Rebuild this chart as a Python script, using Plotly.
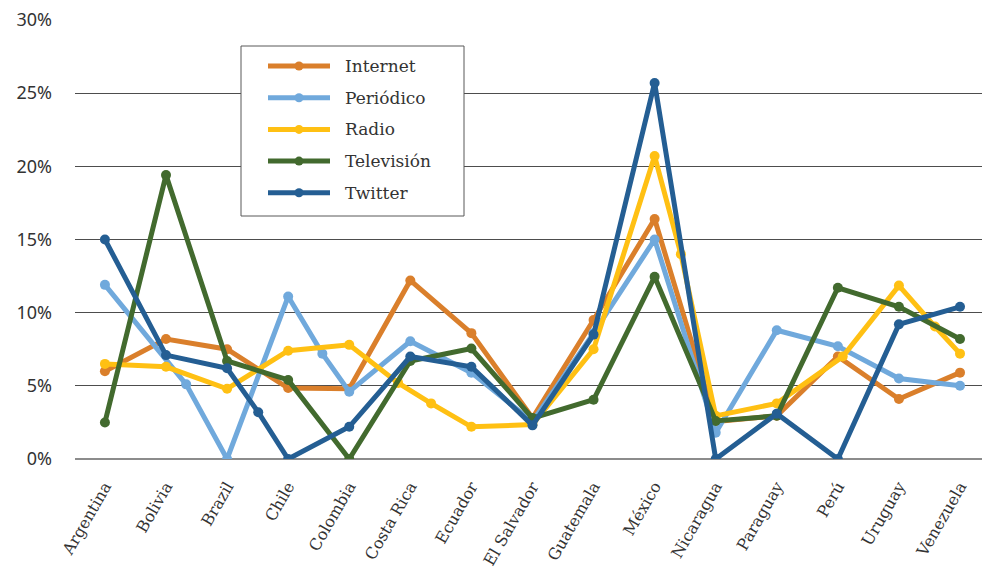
import plotly.graph_objects as go

# Countries on the horizontal axis
countries = ["Argentina", "Bolivia", "Brazil", "Chile", "Colombia", "Costa Rica",
             "Ecuador", "El Salvador", "Guatemala", "México", "Nicaragua",
             "Paraguay", "Perú", "Uruguay", "Venezuela"]

# Share (%) per medium; x holds the position along the country axis
internet_x = [0, 1, 2, 3, 4, 5, 6, 7, 8, 9, 10, 11, 12, 13, 14]
internet_y = [6.0, 8.2, 7.5, 4.85, 4.8, 12.2, 8.6, 2.8, 9.5, 16.4, 2.55, 2.95, 7.0, 4.1, 5.9]

periodico_x = [0, 1.33, 2, 3, 3.56, 4, 5, 6, 7, 8, 9, 10, 11, 12, 13, 14]
periodico_y = [11.9, 5.1, 0.0, 11.1, 7.2, 4.6, 8.05, 5.9, 2.55, 8.6, 15.0, 1.8, 8.8, 7.7, 5.5, 5.0]

radio_x = [0, 1, 2, 3, 4, 4.8, 5.34, 6, 7, 8, 9, 9.43, 10, 11, 12.08, 13, 13.59, 14]
radio_y = [6.5, 6.3, 4.8, 7.4, 7.8, 5.2, 3.8, 2.2, 2.35, 7.5, 20.7, 14.0, 2.95, 3.8, 7.0, 11.85, 9.05, 7.2]

television_x = [0, 1, 2, 3, 4, 5, 6, 7, 8, 9, 10, 11, 12, 13, 14]
television_y = [2.5, 19.4, 6.7, 5.4, 0.0, 6.7, 7.55, 2.8, 4.05, 12.45, 2.6, 2.95, 11.7, 10.4, 8.2]

twitter_x = [0, 1, 2, 2.51, 3, 4, 5, 6, 7, 8, 9, 10, 11, 12, 13, 14]
twitter_y = [15.0, 7.1, 6.2, 3.2, 0.0, 2.2, 7.0, 6.3, 2.3, 8.5, 25.7, 0.0, 3.1, 0.0, 9.2, 10.4]

y_ticks = [0, 5, 10, 15, 20, 25, 30]
y_tick_labels = ["0%", "5%", "10%", "15%", "20%", "25%", "30%"]

series = [
    ("Internet", internet_x, internet_y, "#DA7F2B"),
    ("Periódico", periodico_x, periodico_y, "#70A9DC"),
    ("Radio", radio_x, radio_y, "#FFC013"),
    ("Televisión", television_x, television_y, "#426A2E"),
    ("Twitter", twitter_x, twitter_y, "#245E93"),
]

W, H = 982, 577
ML, MR, MT, MB = 75, 0, 20, 118
PW, PH = W - ML - MR, H - MT - MB

fig = go.Figure()
for name, xs, ys, color in series:
    fig.add_trace(go.Scatter(
        x=xs, y=ys, name=name, mode="lines+markers",
        line=dict(color=color, width=5),
        marker=dict(color=color, size=10),
        showlegend=False,
    ))

# Boxed legend with long line samples
def px_x(p):
    return (p - ML) / PW

def px_y(p):
    return (H - MB - p) / PH

shapes = [dict(type="rect", xref="paper", yref="paper",
               x0=px_x(241), x1=px_x(464), y0=px_y(216), y1=px_y(46),
               line=dict(color="#595959", width=1), fillcolor="white", layer="above")]
annotations = []
row0, step = 66, 31.7
for i, (name, xs, ys, color) in enumerate(series):
    yc = row0 + i * step
    shapes.append(dict(type="line", xref="paper", yref="paper",
                       x0=px_x(268), x1=px_x(330), y0=px_y(yc), y1=px_y(yc),
                       line=dict(color=color, width=5), layer="above"))
    shapes.append(dict(type="circle", xref="paper", yref="paper",
                       x0=px_x(294.5), x1=px_x(303.5), y0=px_y(yc + 4.5), y1=px_y(yc - 4.5),
                       line=dict(color=color, width=0), fillcolor=color, layer="above"))
    annotations.append(dict(xref="paper", yref="paper", x=px_x(343), y=px_y(yc),
                            text=name, showarrow=False, xanchor="left", yanchor="middle",
                            font=dict(family="DejaVu Serif", size=17, color="#333333")))

fig.update_layout(
    width=W, height=H,
    margin=dict(l=ML, r=MR, t=MT, b=MB, pad=0),
    paper_bgcolor="white", plot_bgcolor="white",
    shapes=shapes, annotations=annotations,
    xaxis=dict(
        range=[-0.49, 14.36], automargin=False,
        tickmode="array", tickvals=list(range(len(countries))), ticktext=countries,
        tickangle=-60, showgrid=False, zeroline=False, showline=False,
        ticks="", ticklabelstandoff=14,
        tickfont=dict(family="DejaVu Serif", size=16, color="#333333"),
    ),
    yaxis=dict(
        range=[0, 30], automargin=False,
        tickmode="array", tickvals=y_ticks, ticktext=y_tick_labels,
        showgrid=True, gridcolor="#4d4d4d", gridwidth=1,
        zeroline=True, zerolinecolor="#8c8c8c", zerolinewidth=2,
        showline=False, ticks="", ticklabelstandoff=22,
        tickfont=dict(family="Noto Sans", size=18, color="#333333"),
    ),
)

fig.write_html("out.html")
